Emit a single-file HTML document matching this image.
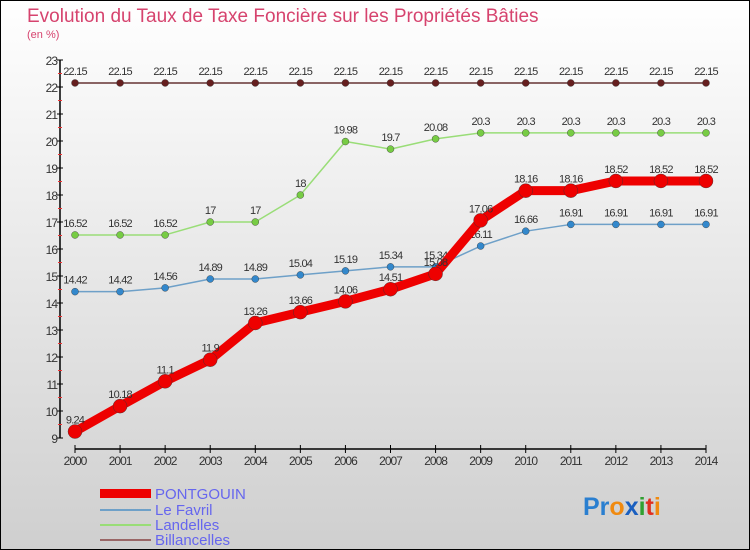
<!DOCTYPE html>
<html><head><meta charset="utf-8"><style>
body{margin:0;width:750px;height:550px;overflow:hidden;font-family:"Liberation Sans",sans-serif}
svg{display:block}
</style></head><body>
<svg width="750" height="550" xmlns="http://www.w3.org/2000/svg">
<defs><linearGradient id="bg" x1="0" y1="0" x2="0" y2="1"><stop offset="0" stop-color="#ffffff"/><stop offset="1" stop-color="#cfcfcf"/></linearGradient></defs>
<rect x="0.5" y="0.5" width="749" height="549" fill="url(#bg)" stroke="#000"/>
<text x="27" y="22" font-size="19" fill="#d6436e">Evolution du Taux de Taxe Foncière sur les Propriétés Bâties</text>
<text x="27" y="38" font-size="11" fill="#d6436e">(en %)</text>
<g id="axes"></g>
<g id="series"></g>
<g id="legend" font-size="15" fill="#6666ee">
<rect x="100" y="489" width="51" height="9" fill="#ee0000"/>
<text x="155" y="499">PONTGOUIN</text>
<rect x="100" y="509" width="51" height="2" fill="#6ea0c8"/>
<text x="155" y="515">Le Favril</text>
<rect x="100" y="524" width="51" height="2" fill="#99dd77"/>
<text x="155" y="530">Landelles</text>
<rect x="100" y="539" width="51" height="2" fill="#996666"/>
<text x="155" y="545">Billancelles</text>
</g>
<g font-size="25" font-weight="bold">
<text x="583" y="515"><tspan fill="#2a7fd0">Pr</tspan><tspan fill="#f08a10">o</tspan><tspan fill="#1a5fc0">x</tspan><tspan fill="#30a030">i</tspan><tspan fill="#e03020">t</tspan><tspan fill="#f08a10">i</tspan></text>
</g>
</svg>
<script>
const years=[2000,2001,2002,2003,2004,2005,2006,2007,2008,2009,2010,2011,2012,2013,2014];
const yTicks=[9,10,11,12,13,14,15,16,17,18,19,20,21,22,23];
const pontgouin=[9.24,10.18,11.1,11.9,13.26,13.66,14.06,14.51,15.08,17.06,18.16,18.16,18.52,18.52,18.52];
const leFavril=[14.42,14.42,14.56,14.89,14.89,15.04,15.19,15.34,15.34,16.11,16.66,16.91,16.91,16.91,16.91];
const landelles=[16.52,16.52,16.52,17,17,18,19.98,19.7,20.08,20.3,20.3,20.3,20.3,20.3,20.3];
const billancelles=[22.15,22.15,22.15,22.15,22.15,22.15,22.15,22.15,22.15,22.15,22.15,22.15,22.15,22.15,22.15];
const NS="http://www.w3.org/2000/svg";
const x=i=>75+i*(706-75)/(years.length-1);
const y=v=>438-(v-9)*(438-60)/14;
function mk(t,a,p){const e=document.createElementNS(NS,t);for(const k in a)e.setAttribute(k,a[k]);p.appendChild(e);return e;}
const ax=document.getElementById('axes');
let yl=mk('line',{x1:60,y1:y(9),x2:60,y2:y(23),stroke:'#000','stroke-width':1.5},ax);


yTicks.forEach(v=>{
 mk('line',{x1:57,y1:y(v),x2:63,y2:y(v),stroke:'#000'},ax);
 if(v<23) mk('line',{x1:58,y1:y(v+0.5),x2:62,y2:y(v+0.5),stroke:'#e33'},ax);
 const t=mk('text',{x:57,y:y(v)+5,'font-size':12,'text-anchor':'end',fill:'#333','letter-spacing':'-1'},ax);
 t.textContent=v;
 
 
});
let xl=mk('line',{x1:x(0),y1:449,x2:x(14),y2:449,stroke:'#000','stroke-width':1.5},ax);


years.forEach((yr,i)=>{
 mk('line',{x1:x(i),y1:445,x2:x(i),y2:453,stroke:'#000'},ax);
 const t=mk('text',{x:x(i),y:465,'font-size':12,'text-anchor':'middle',fill:'#333','letter-spacing':'-1'},ax);
 t.textContent=yr;
 
 
});
const sg=document.getElementById('series');
function series(vals,name,color,dot,w,r){
 const g=mk('g',{},sg);
 
 
 const pl=mk('polyline',{points:vals.map((v,i)=>x(i)+','+y(v)).join(' '),fill:'none',stroke:color,'stroke-width':w,'stroke-linejoin':'round'},g);
 
 
 vals.forEach((v,i)=>{
  const c=mk('circle',{cx:x(i),cy:y(v),r:r,fill:dot,stroke:'#333','stroke-width':0.4},g);
  
  
  const t=mk('text',{x:x(i),y:y(v)-8,'font-size':11,'text-anchor':'middle',fill:'#333','letter-spacing':'-0.8'},g);
  t.textContent=v;
  
  
 });
}
series(billancelles,'billancelles','#663333','#661f1f',1.5,3.5);
series(landelles,'landelles','#99dd77','#77cc44',1.5,3.5);
series(leFavril,'le-favril','#6ea0c8','#3388cc',1.5,3.5);
series(pontgouin,'pontgouin','#ee0000','#ee0000',9,7);
</script>
</body></html>
